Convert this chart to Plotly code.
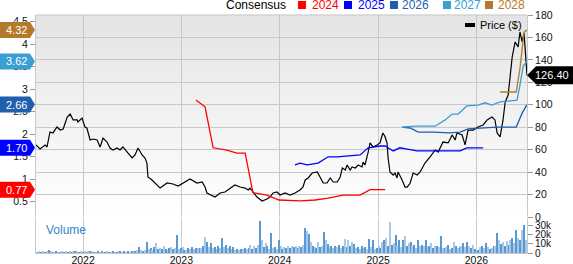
import plotly.graph_objects as go
import pandas as pd

# ---------------- data ----------------
price_dates = ["2021-07-10","2021-07-25","2021-08-13","2021-08-20","2021-08-31","2021-09-11","2021-09-26","2021-10-08",
    "2021-10-19","2021-11-03","2021-11-14","2021-11-25","2021-12-10","2021-12-13","2021-12-28","2022-01-08",
    "2022-01-15","2022-01-27","2022-02-07","2022-02-22","2022-03-05","2022-03-16","2022-03-31","2022-04-11",
    "2022-04-22","2022-05-07","2022-05-18","2022-05-29","2022-06-17","2022-07-02","2022-07-13","2022-07-24",
    "2022-08-08","2022-08-19","2022-08-26","2022-08-30","2022-09-14","2022-10-14","2022-11-09","2022-12-01",
    "2022-12-20","2023-01-07","2023-02-02","2023-02-28","2023-03-19","2023-03-30","2023-04-06","2023-05-06",
    "2023-05-25","2023-06-12","2023-07-01","2023-07-19","2023-08-07","2023-08-26","2023-09-06","2023-09-13",
    "2023-09-24","2023-10-09","2023-10-28","2023-11-15","2023-11-26","2023-12-08","2023-12-22","2024-01-03",
    "2024-01-21","2024-02-09","2024-02-27","2024-03-17","2024-03-28","2024-04-05","2024-04-16","2024-05-01",
    "2024-05-20","2024-05-31","2024-06-11","2024-06-25","2024-07-07","2024-07-18","2024-08-02","2024-08-13",
    "2024-08-21","2024-09-01","2024-09-08","2024-09-19","2024-09-26","2024-10-08","2024-10-19","2024-11-02",
    "2024-11-06","2024-11-13","2024-11-21","2024-11-25","2024-12-02","2024-12-13","2024-12-28","2025-01-08",
    "2025-01-16","2025-01-19","2025-01-27","2025-02-03","2025-02-07","2025-02-14","2025-02-26","2025-03-05",
    "2025-03-12","2025-03-16","2025-03-31","2025-04-11","2025-04-19","2025-04-30","2025-05-11","2025-05-26",
    "2025-06-06","2025-06-24","2025-07-13","2025-08-01","2025-08-12","2025-08-30","2025-09-18","2025-10-03",
    "2025-10-14","2025-10-21","2025-11-09","2025-11-20","2025-12-01","2025-12-20","2026-01-07","2026-01-26",
    "2026-02-10","2026-02-28","2026-03-11","2026-03-19","2026-03-30","2026-04-06","2026-04-10","2026-04-18",
    "2026-04-25","2026-04-29","2026-05-14","2026-05-25","2026-06-05","2026-06-12","2026-06-20","2026-06-27",
    "2026-07-08"]
price_values = [64.2,60.6,64.2,62.4,75.8,74.9,80.2,77.5,
    78.4,89.1,91.8,86.5,86.5,84.7,88.2,80.2,
    79.3,68.6,69.5,68.6,62.4,70.4,66.8,61.5,
    59.7,61.5,59.7,62.4,57.0,52.6,55.3,61.5,
    55.3,52.6,48.1,35.7,33.0,25.8,30.3,29.4,
    27.6,30.3,33.9,30.3,31.2,26.7,21.4,17.8,
    21.4,22.3,25.8,28.5,26.7,25.8,24.1,25.8,
    22.3,17.8,14.3,16.0,17.8,21.4,22.3,19.6,
    21.4,19.6,21.4,24.1,26.7,33.0,34.8,39.2,
    40.1,35.7,30.3,30.3,34.8,31.2,31.2,35.7,
    43.7,41.9,46.3,41.9,44.6,43.7,46.3,44.6,
    49.0,46.3,52.6,57.9,66.0,62.4,64.2,66.0,
    73.1,74.9,71.3,66.0,52.6,40.1,37.4,39.2,
    34.8,40.1,33.0,26.7,26.7,30.3,39.2,37.4,
    40.1,48.1,53.5,59.7,57.9,66.8,66.0,73.1,
    68.6,74.9,73.1,64.2,77.5,77.5,80.2,82.0,
    86.5,89.1,86.5,74.9,71.3,80.2,86.5,102.5,
    107.0,108.7,142.6,156.0,151.5,164.9,156.0,164.0,
    126.40]

eps2024_dates = ["2023-02-24","2023-03-30","2023-04-29","2023-06-19","2023-07-26","2023-08-26","2023-09-24",
    "2023-11-15","2023-12-30","2024-03-17","2024-05-12","2024-06-29","2024-08-24","2024-10-26","2024-12-02","2025-01-27"]
eps2024_values = [2.76,2.61,1.70,1.65,1.58,1.58,0.70,0.65,0.54,0.52,0.54,0.58,0.65,0.65,0.77,0.77]

eps2025_dates = ["2024-02-27","2024-03-17","2024-04-12","2024-05-23","2024-06-29","2024-08-02","2024-10-26",
    "2024-11-25","2025-01-08","2025-01-27","2025-02-26","2025-03-23","2025-04-19","2025-05-26","2025-11-01",
    "2025-11-27","2026-01-26"]
eps2025_values = [1.32,1.36,1.32,1.36,1.50,1.50,1.54,1.70,1.74,1.74,1.63,1.70,1.67,1.63,1.63,1.70,1.70]

eps2026_dates = ["2025-03-31","2025-04-30","2025-05-30","2025-07-24","2025-09-25","2025-11-01","2025-12-01",
    "2026-01-15","2026-03-19","2026-05-29","2026-06-20","2026-07-08"]
eps2026_values = [2.16,2.14,2.05,2.05,2.03,2.05,2.12,2.14,2.16,2.16,2.47,2.66]

eps2027_dates = ["2025-03-31","2025-05-18","2025-08-01","2025-09-07","2025-10-03","2025-10-25","2025-11-27",
    "2026-01-07","2026-02-02","2026-02-28","2026-03-30","2026-06-01","2026-06-12","2026-06-24","2026-07-08"]
eps2027_values = [2.16,2.18,2.18,2.32,2.45,2.45,2.63,2.65,2.70,2.65,2.72,2.76,3.10,3.52,3.62]

eps2028_dates = ["2026-03-30","2026-05-29","2026-06-12","2026-06-27","2026-07-08"]
eps2028_values = [2.94,2.94,3.47,4.27,4.32]

series_names = ["2024", "2025", "2026", "2027", "2028"]

vol_start = "2021-07-09"
vol_k = [
    1,1,1.5,1,2,1,1.5,3.5,1.5,1, 1,2,1,1,1.5,1,2,1,1.5,1,
    2.5,2,1.5,1,1.5,1,2,1,1.5,2.5, 1.5,1,1,1.5,1,2,1,1,1.5,1,
    1,1.5,1,1,2,1.5,1,1.5,1,2, 1,1.5,2,1.5,3,
    6.5,3,2,3.5,12,4,5,3,6,11, 4,5,4,7,4,3,5,6,4,5, 19,4,5,6,3,3,5,4,6,4, 5,5,5,
    5,8,17,12,6,11,5,6,4,7, 5,16,6,9,5,7,4,6,3,4, 3,4,4,5,4,5,9,4,8,5, 9,34,
    14,6,11,7,4,21,5,6,4,14, 7,4,6,5,7,5,8,6,7,5, 8,6,9,27,24,20,12,8,6,5,
    12,6,8,22,14,10,6,8,5,8, 6,9,5,7,15,6,14,7,12,10, 5,6,4,7,5,6,4,15,6,14, 4,5,8,
    5,12,14,16,8,33,9,11,19,8, 14,6,14,18,7,11,12,7,9,5, 14,7,9,7,14,6,8,11,5,7,
    7,6,18,5,5,6,9,4,5,12, 7,5,6,7,11,6,12,7,5,9, 4,2,3,6,7,5,11,6,4,5,
    7,8,21,14,10,12,8,13,9,14, 16,11,25,16,14,25,30,14]

year_ticks = ["2022-01-01", "2023-01-01", "2024-01-01", "2025-01-01", "2026-01-01"]
year_labels = ["2022", "2023", "2024", "2025", "2026"]
x_range = ["2021-07-10", "2026-07-08"]

# ---------------- styling ----------------
FONT = "Liberation Sans, Arial, sans-serif"
W, H = 573, 264
ML, MR, MT, MB = 36, 46, 15, 11
PW, PH = W - ML - MR, H - MT - MB
price_dom = [(253 - 217) / PH, 1.0]
vol_dom = [0.0, (253 - 218) / PH]
GRID = "#c8c8c8"
colors = {"2024": "#ff0000", "2025": "#0000ff", "2026": "#1f5fae", "2027": "#3a9fd2", "2028": "#b47a2c"}

fig = go.Figure()

vol_dates = pd.date_range(vol_start, periods=len(vol_k), freq="7D")
bar_cols = ["#a9c8e8" if i % 2 == 0 else "#5a9ad4" for i in range(len(vol_k))]
fig.add_trace(go.Bar(x=vol_dates, y=vol_k, marker_color=bar_cols, marker_line_width=0,
                     width=4.5 * 86400000, xaxis="x", yaxis="y3", hoverinfo="skip"))

eps_sets = [(eps2024_dates, eps2024_values), (eps2025_dates, eps2025_values), (eps2026_dates, eps2026_values),
            (eps2027_dates, eps2027_values), (eps2028_dates, eps2028_values)]
for name, (d, v) in zip(series_names, eps_sets):
    fig.add_trace(go.Scatter(x=d, y=v, mode="lines", line=dict(color=colors[name], width=1.3),
                             xaxis="x", yaxis="y2", name=name))

fig.add_trace(go.Scatter(x=price_dates, y=price_values, mode="lines", line=dict(color="#000000", width=1.2),
                         xaxis="x", yaxis="y", name="Price ($)"))

shapes = []
# gradient background of price panel
NB = 50
for i in range(NB):
    f0 = i / NB
    f1 = (i + 1) / NB
    g = int(round(255 - 27 * (f0 + f1) / 2))
    shapes.append(dict(type="rect", xref="paper", yref="paper", x0=0, x1=1,
                       y0=price_dom[0] + (price_dom[1] - price_dom[0]) * f0,
                       y1=price_dom[0] + (price_dom[1] - price_dom[0]) * f1 + 0.001,
                       fillcolor=f"rgb({g},{g},{g})", line=dict(width=0), layer="below"))
# top border
shapes.append(dict(type="line", xref="paper", yref="paper", x0=0, x1=1, y0=1, y1=1,
                   line=dict(color=GRID, width=1)))

annotations = []
# left EPS badges
for name, (d, v) in zip(series_names, eps_sets):
    val = v[-1]
    shapes.append(dict(type="path", xref="paper", xsizemode="pixel", xanchor=0,
                       yref="y2", ysizemode="pixel", yanchor=val,
                       path="M -36 -8 L -6 -8 L -1 0 L -6 8 L -36 8 Z",
                       fillcolor=colors[name], line=dict(width=0), layer="above"))
    annotations.append(dict(x=0, xref="paper", xshift=-20, y=val, yref="y2", text=f"{val:.2f}",
                            showarrow=False, font=dict(family=FONT, size=11, color="white"),
                            xanchor="center", yanchor="middle"))
# right price badge
last_price = price_values[-1]
shapes.append(dict(type="path", xref="paper", xsizemode="pixel", xanchor=1,
                   yref="y", ysizemode="pixel", yanchor=last_price,
                   path="M 0 0 L 9 9 L 46 9 L 46 -9 L 9 -9 Z",
                   fillcolor="#000000", line=dict(width=0), layer="above"))
annotations.append(dict(x=1, xref="paper", xshift=25, y=last_price, yref="y", text=f"{last_price:.2f}",
                        showarrow=False, font=dict(family=FONT, size=11, color="white"),
                        xanchor="center", yanchor="middle"))

# top legend
def px(x):
    return (x - ML) / PW

ytop = 1 + (MT - 5) / PH
annotations.append(dict(x=px(224), xref="paper", y=ytop, yref="paper", text="Consensus", showarrow=False,
                        xanchor="left", yanchor="middle", font=dict(family=FONT, size=12, color="#000")))
leg_pos = {"2024": (298, 310), "2025": (344, 356), "2026": (390, 400), "2027": (443, 452), "2028": (485, 496)}
for name in series_names:
    sx, tx = leg_pos[name]
    shapes.append(dict(type="rect", xref="paper", yref="paper", x0=px(sx), x1=px(sx + 8),
                       y0=1 + (MT - 9) / PH, y1=1 + (MT - 1) / PH,
                       fillcolor=colors[name], line=dict(width=0)))
    annotations.append(dict(x=px(tx), xref="paper", y=ytop, yref="paper", text=name, showarrow=False,
                            xanchor="left", yanchor="middle", font=dict(family=FONT, size=12, color=colors[name])))

# price legend inside plot
shapes.append(dict(type="rect", xref="paper", yref="paper", x0=px(465), x1=px(475),
                   y0=1 - (27 - MT) / PH, y1=1 - (23 - MT) / PH, fillcolor="#000", line=dict(width=0)))
annotations.append(dict(x=px(478), xref="paper", y=1 - (25 - MT) / PH, yref="paper", text="Price ($)",
                        showarrow=False, xanchor="left", yanchor="middle",
                        font=dict(family=FONT, size=11, color="#000")))
# Volume label
annotations.append(dict(x=px(44), xref="paper", y=(253 - 230) / PH, yref="paper", text="Volume",
                        showarrow=False, xanchor="left", yanchor="middle",
                        font=dict(family=FONT, size=12, color="#3a86c8")))

tickfont = dict(family=FONT, size=10.5, color="#111")
fig.update_layout(
    width=W, height=H, autosize=False,
    margin=dict(l=ML, r=MR, t=MT, b=MB, pad=0),
    paper_bgcolor="white", plot_bgcolor="white",
    showlegend=False, bargap=0,
    shapes=shapes, annotations=annotations,
    xaxis=dict(type="date", range=x_range, anchor="y3", domain=[0, 1], automargin=False,
               tickvals=year_ticks, ticktext=year_labels, tickfont=dict(family=FONT, size=10.5, color="#111"),
               showgrid=True, gridcolor=GRID, gridwidth=1, showline=True, linecolor=GRID,
               ticks="", zeroline=False, ticklabelstandoff=-3),
    yaxis=dict(domain=price_dom, range=[0, 180], side="right", anchor="x", dtick=20, tick0=0, automargin=False,
               showgrid=True, gridcolor=GRID, gridwidth=1, zeroline=False,
               showline=True, linecolor=GRID, ticks="outside", ticklen=5, tickcolor="#999",
               tickfont=tickfont),
    yaxis2=dict(overlaying="y", side="left", anchor="x", range=[0.162, 4.651], dtick=0.5, tick0=0.5,
                automargin=False, showgrid=False, zeroline=False, showline=True, linecolor=GRID,
                ticks="outside", ticklen=5, tickcolor="#999", tickfont=tickfont),
    yaxis3=dict(domain=vol_dom, range=[0, 37.5], side="right", anchor="x", automargin=False,
                tickvals=[0, 10, 20, 30], ticktext=["0", "10k", "20k", "30k"],
                showgrid=False, zeroline=False, showline=True, mirror=True, linecolor=GRID,
                ticks="outside", ticklen=5, tickcolor="#999", tickfont=dict(family=FONT, size=10, color="#111")),
)

fig.write_html("out.html", config={"displayModeBar": False})
